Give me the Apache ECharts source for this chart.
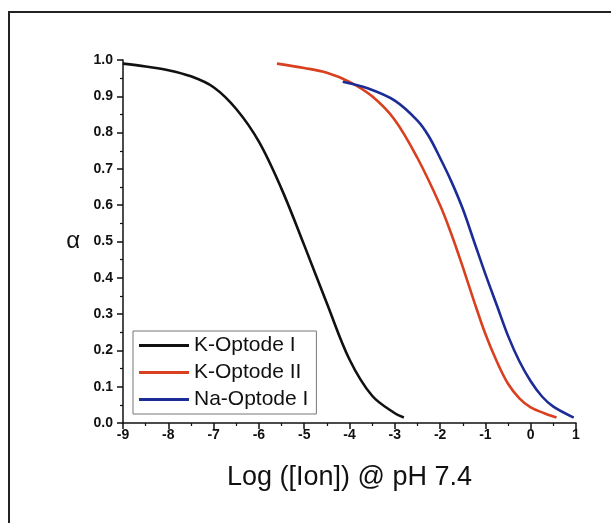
<!DOCTYPE html>
<html>
<head>
<meta charset="utf-8">
<script src="https://cdn.jsdelivr.net/npm/echarts@6/dist/echarts.min.js"></script>
<style>html,body{margin:0;padding:0;background:#fff}#c{width:611px;height:523px}</style>
</head>
<body>
<div id="c"></div>
<script>
const seriesNames = ['K-Optode I', 'K-Optode II', 'Na-Optode I'];
const kOptodeI = [[-9,0.99],[-8.5,0.982],[-8,0.972],[-7.5,0.955],[-7,0.925],[-6.5,0.865],[-6,0.775],[-5.5,0.645],[-5,0.49],[-4.5,0.33],[-4,0.175],[-3.5,0.075],[-3,0.027],[-2.8,0.015]];
const kOptodeII = [[-5.6,0.99],[-5,0.978],[-4.5,0.965],[-4,0.94],[-3.5,0.9],[-3,0.835],[-2.5,0.73],[-2,0.6],[-1.75,0.52],[-1.5,0.43],[-1.25,0.335],[-1,0.245],[-0.75,0.17],[-0.5,0.108],[-0.25,0.068],[0,0.043],[0.3,0.027],[0.57,0.015]];
const naOptodeI = [[-4.15,0.94],[-3.6,0.922],[-3,0.888],[-2.5,0.833],[-2.25,0.79],[-2,0.73],[-1.75,0.665],[-1.5,0.59],[-1.25,0.5],[-1,0.41],[-0.75,0.325],[-0.5,0.24],[-0.25,0.17],[0,0.115],[0.25,0.073],[0.5,0.045],[0.95,0.015]];
const xTicks = [-9,-8,-7,-6,-5,-4,-3,-2,-1,0,1];
const yTicks = [0,0.1,0.2,0.3,0.4,0.5,0.6,0.7,0.8,0.9,1.0];
const colors = ['#111111', '#d8401f', '#1c2c96'];

const chart = echarts.init(document.getElementById('c'));
const font = 'Liberation Sans, Arial, sans-serif';
chart.setOption({
  animation: false,
  backgroundColor: '#fff',
  color: colors,
  graphic: [{
    type: 'rect', shape: {x: 9, y: 12, width: 700, height: 600},
    style: {fill: 'none', stroke: '#222', lineWidth: 2}, z: -1
  }],
  grid: {left: 123, right: 35, top: 60, bottom: 100},
  xAxis: {
    type: 'value', min: xTicks[0], max: xTicks[xTicks.length - 1], interval: 1,
    name: 'Log ([Ion]) @ pH 7.4', nameLocation: 'middle', nameGap: 41,
    nameTextStyle: {fontSize: 27, color: '#111', fontFamily: font},
    axisLine: {show: true, onZero: false, lineStyle: {color: '#111', width: 1.5}},
    axisTick: {show: true, inside: false, length: 6, lineStyle: {color: '#111', width: 1.5}},
    minorTick: {show: true, splitNumber: 2, length: 3, lineStyle: {color: '#111', width: 1.2}},
    axisLabel: {fontSize: 14, fontWeight: 'bold', color: '#111', fontFamily: font, margin: 5},
    splitLine: {show: false}
  },
  yAxis: {
    type: 'value', min: yTicks[0], max: yTicks[yTicks.length - 1], interval: 0.1,
    name: 'α', nameLocation: 'middle', nameGap: 43, nameRotate: 0,
    nameTextStyle: {fontSize: 24, color: '#111', fontFamily: font},
    axisLine: {show: true, onZero: false, lineStyle: {color: '#111', width: 1.5}},
    axisTick: {show: true, inside: false, length: 6, lineStyle: {color: '#111', width: 1.5}},
    minorTick: {show: true, splitNumber: 2, length: 3, lineStyle: {color: '#111', width: 1.2}},
    axisLabel: {fontSize: 14, fontWeight: 'bold', color: '#111', fontFamily: font, margin: 10,
      formatter: v => v.toFixed(1)},
    splitLine: {show: false}
  },
  legend: {
    orient: 'vertical', left: 133, top: 331,
    data: seriesNames,
    icon: 'rect', itemWidth: 50, itemHeight: 3, itemGap: 6,
    padding: [4, 8, 4, 6],
    borderColor: '#777', borderWidth: 1,
    textStyle: {fontSize: 21, color: '#111', fontFamily: font}
  },
  series: [
    {name: seriesNames[0], type: 'line', data: kOptodeI, smooth: 0.35, showSymbol: false, symbol: 'none', lineStyle: {width: 2.6}},
    {name: seriesNames[1], type: 'line', data: kOptodeII, smooth: 0.35, showSymbol: false, symbol: 'none', lineStyle: {width: 2.6}},
    {name: seriesNames[2], type: 'line', data: naOptodeI, smooth: 0.35, showSymbol: false, symbol: 'none', lineStyle: {width: 2.6}}
  ]
});
</script>
</body>
</html>
